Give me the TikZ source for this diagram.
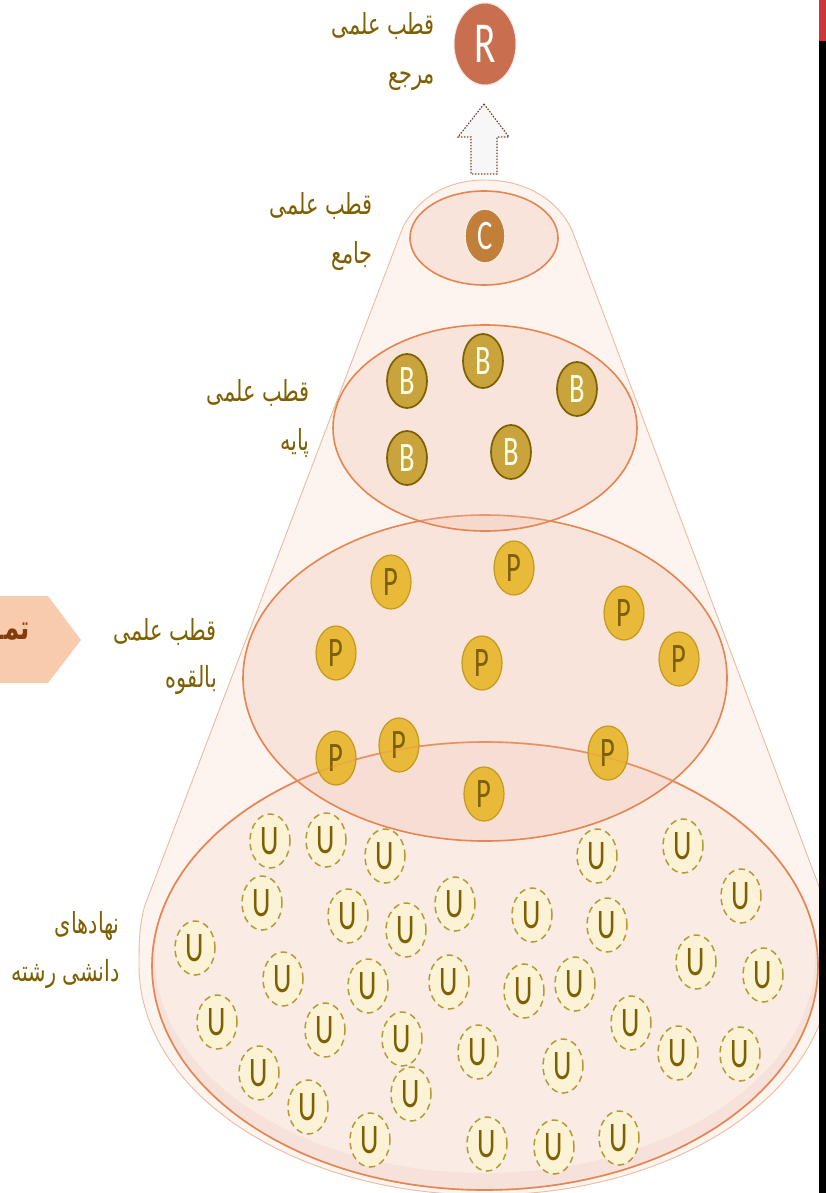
\documentclass[tikz,border=0pt]{standalone}
\usepackage{fontspec}
\usepackage{tikz}
\usetikzlibrary{shapes.geometric}
\TeXXeTstate=1
\newfontfamily\arabicfont[Script=Arabic,FakeStretch=0.72]{DejaVu Sans}
\newfontfamily\letterfont[FakeStretch=0.68]{Carlito}
\definecolor{conefill}{HTML}{FDF4EF}
\definecolor{coneline}{HTML}{EDBB9F}
\definecolor{zoneline}{HTML}{E6854F}
\definecolor{zonefill}{HTML}{F0C0AE}
\definecolor{zoneshade}{HTML}{F6E2DA}
\definecolor{zonelight}{HTML}{FAEBE5}
\definecolor{labelcolor}{HTML}{7F6000}
\definecolor{rfill}{HTML}{C96E4F}
\definecolor{cfill}{HTML}{C27F3A}
\definecolor{bfill}{HTML}{C9A33B}
\definecolor{pfill}{HTML}{E9B93A}
\definecolor{pline}{HTML}{C49A1A}
\definecolor{ufill}{HTML}{FCF2D6}
\definecolor{uline}{HTML}{B69B33}
\definecolor{tagfill}{HTML}{F8CBAD}
\definecolor{tagtext}{HTML}{843C0C}
\definecolor{barred}{HTML}{D13438}
\tikzstyle{zone}=[ellipse, draw=zoneline, line width=1.6pt, fill=zonefill, fill opacity=0.3, inner sep=0pt]
\tikzstyle{base}=[ellipse, inner sep=0pt, minimum width=40pt, minimum height=54pt, font=\letterfont\fontsize{42}{42}\selectfont]
\tikzstyle{rpole}=[base, fill=rfill, draw=white!80!rfill, line width=1pt, text=white, minimum width=62pt, minimum height=82pt, font=\letterfont\fontsize{58}{58}\selectfont]
\tikzstyle{cpole}=[base, fill=cfill, draw=white!85!cfill, line width=1.4pt, text=white]
\tikzstyle{bpole}=[base, fill=bfill, draw=labelcolor, line width=1.7pt, text=white!90!yellow]
\tikzstyle{ppole}=[base, fill=pfill, draw=pline, line width=1.2pt, text=labelcolor]
\tikzstyle{upole}=[base, fill=ufill, draw=uline, line width=1.5pt, dash pattern=on 6.5pt off 4.5pt, text=labelcolor]
\tikzstyle{caption}=[anchor=east, align=right, inner sep=0pt, text=labelcolor, font=\arabicfont\fontsize{29}{29}\selectfont]
\begin{document}
\begin{tikzpicture}[x=1pt, y=-1pt]
                    \useasboundingbox (0, 0) rectangle (826, 1193);
                    \fill[white] (0, 0) rectangle (826, 1193);
                    \filldraw[fill=conefill, draw=coneline, line width=0.9pt] (403, 227) .. controls (420, 195) and (450, 180) .. (485, 180)
                        .. controls (520, 180) and (555, 195) .. (572, 230) -- (826, 905)
                        .. controls (831, 925) and (831, 945) .. (831, 965)
                        .. controls (831, 1092) and (676, 1195) .. (485, 1195)
                        .. controls (294, 1195) and (139, 1092) .. (139, 965)
                        .. controls (139, 945) and (139, 925) .. (145, 905) -- cycle;
                    \node[ellipse, fill=zoneshade, minimum width=666pt, minimum height=448pt, inner sep=0pt] (ushade) at (485, 966) {};
                    \node[ellipse, fill=zonelight, minimum width=660pt, minimum height=432pt, inner sep=0pt] (ulight) at (485, 957) {};
                    \node[ellipse, draw=zoneline, line width=1.6pt, minimum width=666pt, minimum height=448pt, inner sep=0pt] (uzone) at (485, 966) {};
                    \node[zone, minimum width=484pt, minimum height=326pt] (pzone) at (485, 678) {};
                    \node[zone, minimum width=304pt, minimum height=206pt] (bzone) at (485, 428) {};
                    \node[zone, minimum width=148pt, minimum height=94pt] (czone) at (484, 238) {};
                    \filldraw[fill=black!3, draw=rfill!60!black, line width=1.2pt, dash pattern=on 1.5pt off 1.5pt] (484, 104) -- (509, 137) -- (497, 137) -- (497, 174)
                        -- (471, 174) -- (471, 137) -- (458, 137) -- cycle;
                    \node[rpole] (r) at (485, 44) {R};
                    \node[cpole] (c) at (485, 236) {C};
                    \node[bpole] (b1) at (407, 381) {B};
                    \node[bpole] (b2) at (483, 361) {B};
                    \node[bpole] (b3) at (577, 389) {B};
                    \node[bpole] (b4) at (407, 458) {B};
                    \node[bpole] (b5) at (511, 452) {B};
                    \node[ppole] (p1) at (391, 582) {P};
                    \node[ppole] (p2) at (514, 568) {P};
                    \node[ppole] (p3) at (624, 613) {P};
                    \node[ppole] (p4) at (336, 653) {P};
                    \node[ppole] (p5) at (482, 663) {P};
                    \node[ppole] (p6) at (679, 659) {P};
                    \node[ppole] (p7) at (336, 758) {P};
                    \node[ppole] (p8) at (399, 745) {P};
                    \node[ppole] (p9) at (608, 753) {P};
                    \node[ppole] (p10) at (484, 794) {P};
                    \node[ellipse, draw=zoneline, draw opacity=0.3, line width=1.6pt, minimum width=666pt, minimum height=448pt, inner sep=0pt] (uedge) at (485, 966) {};
                    \node[upole] (u1) at (270, 841) {U};
                    \node[upole] (u2) at (326, 840) {U};
                    \node[upole] (u3) at (385, 856) {U};
                    \node[upole] (u4) at (597, 856) {U};
                    \node[upole] (u5) at (683, 846) {U};
                    \node[upole] (u6) at (262, 903) {U};
                    \node[upole] (u7) at (348, 916) {U};
                    \node[upole] (u8) at (406, 930) {U};
                    \node[upole] (u9) at (455, 904) {U};
                    \node[upole] (u10) at (532, 915) {U};
                    \node[upole] (u11) at (607, 925) {U};
                    \node[upole] (u12) at (741, 896) {U};
                    \node[upole] (u13) at (195, 948) {U};
                    \node[upole] (u14) at (283, 979) {U};
                    \node[upole] (u15) at (368, 986) {U};
                    \node[upole] (u16) at (449, 982) {U};
                    \node[upole] (u17) at (524, 991) {U};
                    \node[upole] (u18) at (575, 984) {U};
                    \node[upole] (u19) at (696, 962) {U};
                    \node[upole] (u20) at (763, 975) {U};
                    \node[upole] (u21) at (217, 1022) {U};
                    \node[upole] (u22) at (325, 1030) {U};
                    \node[upole] (u23) at (402, 1039) {U};
                    \node[upole] (u24) at (631, 1023) {U};
                    \node[upole] (u25) at (478, 1052) {U};
                    \node[upole] (u26) at (563, 1066) {U};
                    \node[upole] (u27) at (678, 1053) {U};
                    \node[upole] (u28) at (740, 1054) {U};
                    \node[upole] (u29) at (259, 1073) {U};
                    \node[upole] (u30) at (308, 1107) {U};
                    \node[upole] (u31) at (411, 1094) {U};
                    \node[upole] (u32) at (370, 1140) {U};
                    \node[upole] (u33) at (487, 1144) {U};
                    \node[upole] (u34) at (554, 1147) {U};
                    \node[upole] (u35) at (619, 1138) {U};
                    \node[caption] (rtext) at (435, 52) {\beginR قطب علمی\endR\\[20pt]\beginR مرجع\endR};
                    \node[caption] (ctext) at (373, 232) {\beginR قطب علمی\endR\\[20pt]\beginR جامع\endR};
                    \node[caption] (btext) at (310, 419) {\beginR قطب علمی\endR\\[20pt]\beginR پایه\endR};
                    \node[caption] (ptext) at (217, 657) {\beginR قطب علمی\endR\\[18pt]\beginR بالقوه\endR};
                    \node[caption] (utext) at (120, 950) {\beginR نهادهای\endR\\[18pt]\beginR دانشی رشته\endR};
                    \fill[tagfill] (0, 596) -- (48, 596) -- (81, 640) -- (48, 683) -- (0, 683) -- cycle;
                    \node[anchor=east, inner sep=0pt, text=tagtext, font=\arabicfont\bfseries\fontsize{34}{34}\selectfont] (tag) at (30, 632) {\beginR تمـــ\endR};
                    \fill[barred] (819, 0) rectangle (826, 41);
                    \fill[black] (819, 41) rectangle (826, 1193);
                \end{tikzpicture}
\end{document}
